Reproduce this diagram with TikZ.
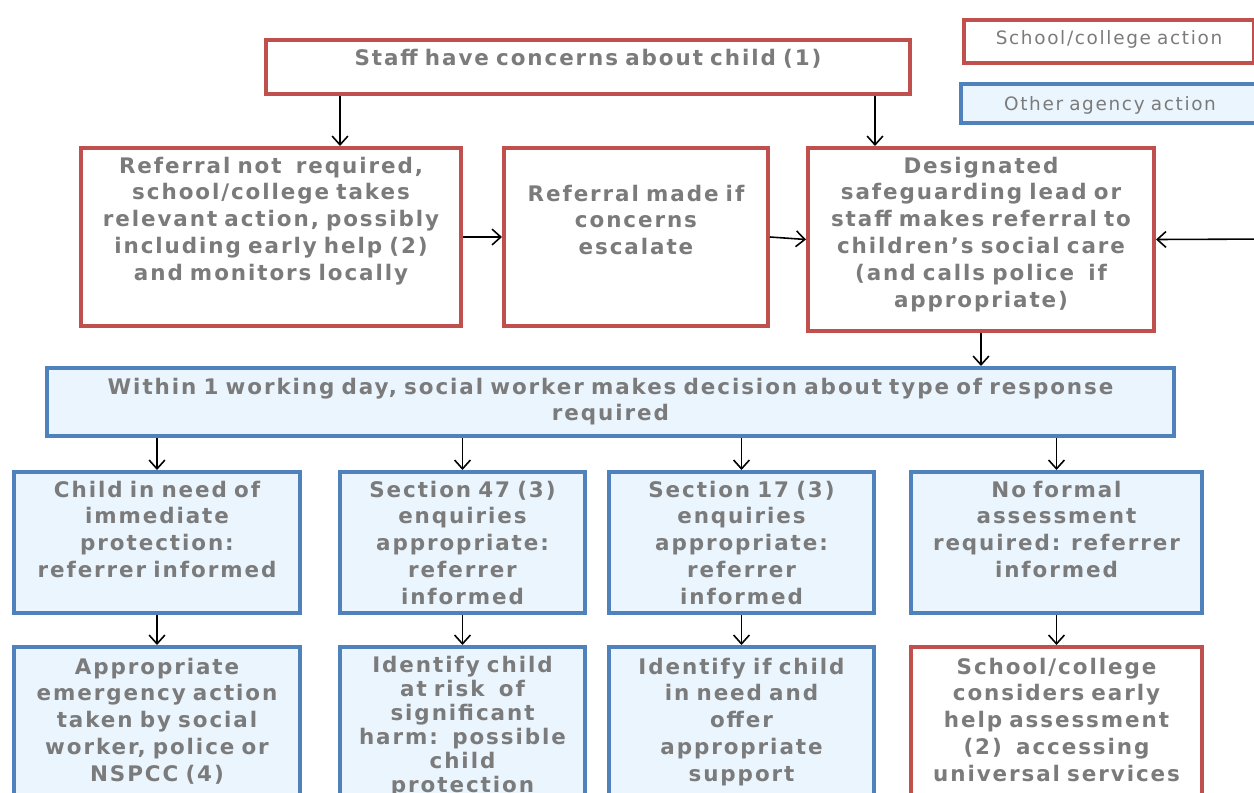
\documentclass[tikz,border=0pt]{standalone}
\usepackage{fontspec}
\setmainfont{DejaVu Sans}[LetterSpace=9]
\usetikzlibrary{arrows.meta}

\definecolor{schoolred}{HTML}{C0504D}
\definecolor{agencyblue}{HTML}{4F81BD}
\definecolor{agencyfill}{HTML}{EAF5FE}
\definecolor{labelgray}{HTML}{7B7B7B}
\newcommand{\pxl}{0.02cm}

\begin{document}
\begin{tikzpicture}[x=0.02cm, y=-0.02cm,
  every node/.style={anchor=north west, inner sep=0pt, align=center, text=labelgray,
    font=\fontsize{12.2}{15.3}\selectfont\bfseries},
  sized/.style n args={3}{minimum width=(#1-4)*\pxl, text width=(#1-12)*\pxl,
    text height=#3*\pxl, text depth=(#2-4-#3)*\pxl},
  school/.style={draw=schoolred, line width=4*\pxl, fill=white},
  agency/.style={draw=agencyblue, line width=4*\pxl, fill=agencyfill},
  legendbox/.style={font=\fontsize{10.5}{14}\selectfont},
  arr/.style={-{Straight Barb[length=5pt,width=9pt]}, line width=0.9pt, black},
]
  % Page frame
  \useasboundingbox (0,0) rectangle (1254,792);
  \clip (0,0) rectangle (1254,792);
  \fill[white] (0,0) rectangle (1254,792);

  % Legend
  \node[school, legendbox, sized={294}{47}{24}] (keyschool) at (962,18) {School/college action};
  \node[agency, legendbox, sized={302}{43}{26}] (keyagency) at (959,82) {Other agency action};

  % First concern and referral
  \node[school, sized={648}{58}{25}] (staff) at (264,38) {Staff have concerns about child (1)};
  \node[school, sized={384}{182}{25}] (norefer) at (79,146)
    {Referral not\ \ required,\\ school/college takes\\ relevant action, possibly\\ including early help (2)\\ and monitors locally};
  \node[school, sized={268}{182}{53}] (escalate) at (502,146)
    {Referral made if\\ concerns\\ escalate};
  \node[school, sized={350}{187}{25}] (dsl) at (806,146)
    {Designated\\ safeguarding lead or\\ staff makes referral to\\ children’s social care\\ (and calls police\ \ if\\ appropriate)};
  \coordinate (offpage) at (1275,239);

  % Social worker decision
  \node[agency, sized={1131}{72}{26}] (decision) at (45,366)
    {Within 1 working day, social worker makes decision about type of response\\ required};

  % Responses
  \node[agency, sized={290}{145}{25}] (immediate) at (12,470)
    {Child in need of\\ immediate\\ protection:\\ referrer informed};
  \node[agency, sized={249}{145}{25}] (section47) at (338,470)
    {Section 47 (3)\\ enquiries\\ appropriate:\\ referrer\\ informed};
  \node[agency, sized={269}{145}{25}] (section17) at (607,470)
    {Section 17 (3)\\ enquiries\\ appropriate:\\ referrer\\ informed};
  \node[agency, sized={295}{145}{25}] (noformal) at (909,470)
    {No formal\\ assessment\\ required: referrer\\ informed};

  % Outcomes
  \node[agency, sized={290}{200}{27}] (emergency) at (12,645)
    {Appropriate\\ emergency action\\ taken by social\\ worker, police or\\ NSPCC (4)};
  \node[agency, sized={249}{200}{25}, font=\fontsize{12.2}{13.7}\selectfont\bfseries] (significant) at (338,645)
    {Identify child\\ at risk\ \ of\\ significant\\ harm:\ \ possible\\ child\\ protection};
  \node[agency, sized={269}{200}{27}] (inneed) at (607,645)
    {Identify if child\\ in need and\\ offer\\ appropriate\\ support};
  \node[school, sized={295}{200}{27}] (earlyhelp) at (909,645)
    {School/college\\ considers early\\ help assessment\\ (2)\ \ accessing\\ universal services};

  % Arrows
  \draw[arr] (staff.south -| 340,0) -- (norefer.north -| 340,0);
  \draw[arr] (staff.south -| 875,0) -- (dsl.north -| 875,0);
  \draw[arr] (norefer.east) -- (escalate.west);
  \draw[arr] (escalate.east) -- (dsl.west);
  \draw[arr] (offpage) -- (dsl.east);
  \draw[arr] (dsl.south) -- (dsl.south |- decision.north);
  \foreach \b in {immediate,section47,section17,noformal}
    \draw[arr] (decision.south -| \b.north) -- (\b.north);
  \foreach \a/\b in {immediate/emergency,section47/significant,section17/inneed,noformal/earlyhelp}
    \draw[arr] (\a.south) -- (\b.north);

\end{tikzpicture}
\end{document}
